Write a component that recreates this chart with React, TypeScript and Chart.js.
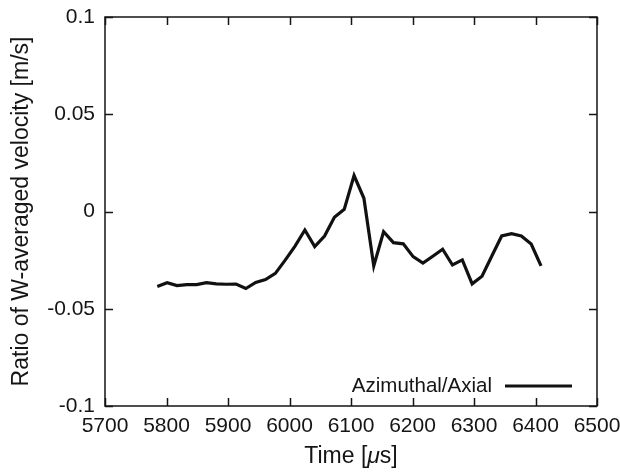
import React, { useEffect, useRef } from "react";
import { Chart, registerables } from "chart.js";

Chart.register(...registerables);

const TIMES = [
  5785, 5801, 5817, 5833, 5849, 5865, 5881, 5897, 5913, 5929,
  5945, 5961, 5977, 5993, 6009, 6025, 6041, 6057, 6073, 6089,
  6105, 6121, 6137, 6153, 6169, 6185, 6201, 6217, 6233, 6249,
  6265, 6281, 6297, 6313, 6329, 6345, 6361, 6377, 6393, 6409,
];
const RATIO = [
  -0.0385, -0.0366, -0.0381, -0.0376, -0.0376, -0.0366, -0.0372, -0.0374, -0.0373, -0.0396,
  -0.0365, -0.035, -0.0318, -0.025, -0.0178, -0.0095, -0.018, -0.0126, -0.003, 0.0011,
  0.0185, 0.0068, -0.028, -0.0104, -0.016, -0.0166, -0.0232, -0.0265, -0.023, -0.0194,
  -0.0275, -0.0249, -0.0372, -0.0333, -0.0229, -0.0126, -0.0114, -0.0126, -0.0167, -0.028,
];
const SERIES_LABEL = "Azimuthal/Axial";
const X_TICKS = [5700, 5800, 5900, 6000, 6100, 6200, 6300, 6400, 6500];
const X_TICK_LABELS = ["5700", "5800", "5900", "6000", "6100", "6200", "6300", "6400", "6500"];
const Y_TICKS = [-0.1, -0.05, 0, 0.05, 0.1];
const Y_TICK_LABELS = ["-0.1", "-0.05", "0", "0.05", "0.1"];
const X_TITLE_PARTS = ["Time [", "\u03bc", "s]"];
const Y_TITLE = "Ratio of W-averaged velocity [m/s]";

const FONT = "'Liberation Sans', Arial, Helvetica, sans-serif";
const INK = "#151515";

const framePlugin = {
  id: "frameAndLegend",
  afterDatasetsDraw(chart: any) {
    const { ctx, chartArea } = chart;
    const { left, right, top, bottom } = chartArea;
    const xs = chart.scales.x;
    const ys = chart.scales.y;
    const tl = 8;
    ctx.save();
    ctx.strokeStyle = INK;
    ctx.lineWidth = 1.5;
    ctx.beginPath();
    ctx.rect(left, top, right - left, bottom - top);
    ctx.stroke();
    ctx.beginPath();
    xs.ticks.forEach((t: any) => {
      const px = Math.round(xs.getPixelForValue(t.value)) + 0.5;
      ctx.moveTo(px, bottom);
      ctx.lineTo(px, bottom - tl);
      ctx.moveTo(px, top);
      ctx.lineTo(px, top + tl);
    });
    ys.ticks.forEach((t: any) => {
      const py = Math.round(ys.getPixelForValue(t.value)) + 0.5;
      ctx.moveTo(left, py);
      ctx.lineTo(left + tl, py);
      ctx.moveTo(right, py);
      ctx.lineTo(right - tl, py);
    });
    ctx.stroke();

    // legend: text then line sample, bottom-right inside the plot
    const ds = chart.data.datasets[0];
    const lineEnd = right - 25;
    const lineStart = lineEnd - 67;
    const ly = bottom - 20;
    ctx.strokeStyle = ds.borderColor;
    ctx.lineWidth = ds.borderWidth;
    ctx.beginPath();
    ctx.moveTo(lineStart, ly);
    ctx.lineTo(lineEnd, ly);
    ctx.stroke();
    ctx.fillStyle = INK;
    ctx.font = `20.5px ${FONT}`;
    ctx.textAlign = "right";
    ctx.textBaseline = "middle";
    ctx.fillText(ds.label, lineStart - 13, ly);

    // x-axis title with italic mu
    const fonts = [`23px ${FONT}`, `italic 23px ${FONT}`, `23px ${FONT}`];
    const widths = X_TITLE_PARTS.map((p, i) => {
      ctx.font = fonts[i];
      return ctx.measureText(p).width;
    });
    const total = widths.reduce((a, b) => a + b, 0);
    let x = (left + right) / 2 - total / 2;
    const ty = 457;
    ctx.textAlign = "left";
    X_TITLE_PARTS.forEach((p, i) => {
      ctx.font = fonts[i];
      ctx.fillText(p, x, ty);
      x += widths[i];
    });
    ctx.restore();
  },
};

export default function App() {
  const ref = useRef<HTMLCanvasElement | null>(null);
  useEffect(() => {
    if (!ref.current) return;
    const chart = new Chart(ref.current, {
      type: "line",
      data: {
        datasets: [
          {
            label: SERIES_LABEL,
            data: TIMES.map((t, i) => ({ x: t, y: RATIO[i] })),
            borderColor: "#111111",
            borderWidth: 3.2,
            pointRadius: 0,
            tension: 0,
            fill: false,
          },
        ],
      },
      options: {
        animation: false,
        responsive: false,
        layout: { padding: { top: 17, right: 23, left: 0, bottom: 0 } },
        plugins: { legend: { display: false }, tooltip: { enabled: false } },
        scales: {
          x: {
            type: "linear",
            min: 5700,
            max: 6500,
            afterBuildTicks: (s: any) => {
              s.ticks = X_TICKS.map((v) => ({ value: v }));
            },
            afterFit: (s: any) => {
              s.height = 68;
              s.paddingLeft = 0;
              s.paddingRight = 0;
            },
            grid: { display: false, drawTicks: false },
            border: { display: false },
            ticks: {
              padding: 8,
              color: INK,
              font: { family: FONT, size: 21 },
              maxRotation: 0,
              autoSkip: false,
              callback: (v: any) => {
                const i = X_TICKS.indexOf(Number(v));
                return i >= 0 ? X_TICK_LABELS[i] : "";
              },
            },
            title: { display: false },
          },
          y: {
            type: "linear",
            min: -0.1,
            max: 0.1,
            afterBuildTicks: (s: any) => {
              s.ticks = Y_TICKS.map((v) => ({ value: v }));
            },
            afterFit: (s: any) => {
              s.width = 105;
              s.paddingTop = 0;
              s.paddingBottom = 0;
            },
            grid: { display: false, drawTicks: false },
            border: { display: false },
            ticks: {
              padding: 10,
              color: INK,
              font: { family: FONT, size: 21 },
              autoSkip: false,
              callback: (v: any) => {
                const i = Y_TICKS.findIndex((y) => Math.abs(y - Number(v)) < 1e-9);
                return i >= 0 ? Y_TICK_LABELS[i] : "";
              },
            },
            title: {
              display: true,
              text: Y_TITLE,
              color: INK,
              font: { family: FONT, size: 23 },
              padding: { top: 8, bottom: 0 },
            },
          },
        },
      },
      plugins: [framePlugin],
    });
    return () => chart.destroy();
  }, []);
  return (
    <div style={{ position: "fixed", left: 0, top: 0, width: 620, height: 474, background: "#fff" }}>
      <canvas ref={ref} width={620} height={474} style={{ display: "block" }} />
    </div>
  );
}
